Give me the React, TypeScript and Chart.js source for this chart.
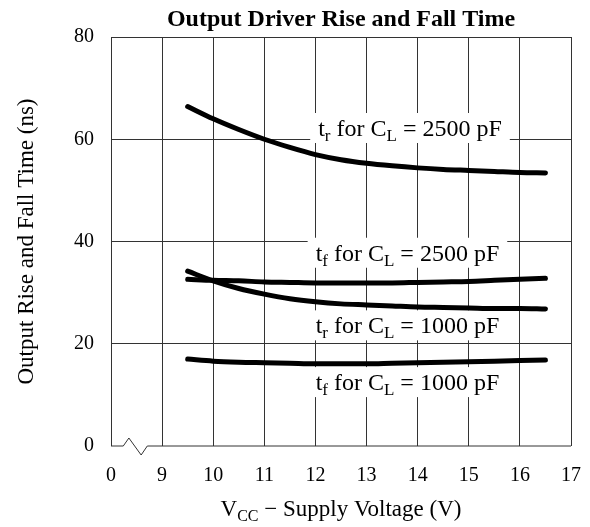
import React, { useEffect, useRef } from "react";
import { Chart, registerables } from "chart.js";

Chart.register(...registerables);

// Supply voltage (V) sample points
const VCC = [9.5, 10, 10.5, 11, 11.5, 12, 12.5, 13, 13.5, 14, 14.5, 15, 15.5, 16, 16.5];
// Output rise / fall times (ns)
const TR_2500 = [66.4, 64.0, 61.9, 60.0, 58.4, 57.0, 56.0, 55.3, 54.8, 54.4, 54.1, 53.9, 53.7, 53.5, 53.4];
const TF_2500 = [32.6, 32.4, 32.3, 32.1, 32.0, 31.9, 31.9, 31.9, 31.9, 32.0, 32.1, 32.2, 32.4, 32.6, 32.8];
const TR_1000 = [34.2, 32.3, 30.8, 29.7, 28.8, 28.2, 27.8, 27.6, 27.4, 27.2, 27.1, 27.0, 26.9, 26.9, 26.8];
const TF_1000 = [17.0, 16.6, 16.4, 16.3, 16.2, 16.1, 16.1, 16.1, 16.2, 16.3, 16.4, 16.5, 16.6, 16.7, 16.8];

// Axis (broken): position 0 -> "0", positions 1..9 -> 9..17 V
const X_TICK_LABELS = ["0", "9", "10", "11", "12", "13", "14", "15", "16", "17"];
const Y_TICKS = [0, 20, 40, 60, 80];
const VOLT_OFFSET = 8;

const TITLE = "Output Driver Rise and Fall Time";
const Y_TITLE = "Output Rise and Fall Time (ns)";

const CURVE_LABELS = [
  { sub: "r", load: "2500", v: 13.85, t: 62.2 },
  { sub: "f", load: "2500", v: 13.8, t: 37.8 },
  { sub: "r", load: "1000", v: 13.8, t: 23.6 },
  { sub: "f", load: "1000", v: 13.8, t: 12.5 },
];

const SERIF = "'Liberation Serif', 'Times New Roman', serif";

const toPts = (vals: number[]) => vals.map((t, i) => ({ x: VCC[i] - VOLT_OFFSET, y: t }));

const overlayPlugin = {
  id: "overlay",
  beforeDatasetsDraw(chart: any) {
    const { ctx, chartArea, scales } = chart;
    const xs = scales.x;
    const ys = scales.y;
    ctx.save();
    // Bottom border with axis break
    const b = chartArea.bottom;
    ctx.strokeStyle = "#333";
    ctx.lineWidth = 1;
    ctx.beginPath();
    ctx.moveTo(chartArea.left, b);
    ctx.lineTo(xs.getPixelForValue(0.24), b);
    ctx.lineTo(xs.getPixelForValue(0.35), b - 8);
    ctx.lineTo(xs.getPixelForValue(0.59), b + 9);
    ctx.lineTo(xs.getPixelForValue(0.71), b);
    ctx.lineTo(chartArea.right, b);
    ctx.stroke();

    // Curve labels with white boxes
    const mainFont = `24px ${SERIF}`;
    const subFont = `17px ${SERIF}`;
    for (const lab of CURVE_LABELS) {
      const parts = [
        { s: "t", f: mainFont, dy: 0 },
        { s: lab.sub, f: subFont, dy: 5 },
        { s: " for C", f: mainFont, dy: 0 },
        { s: "L", f: subFont, dy: 5 },
        { s: ` = ${lab.load} pF`, f: mainFont, dy: 0 },
      ];
      let w = 0;
      const widths = parts.map((p) => {
        ctx.font = p.f;
        const m = ctx.measureText(p.s).width;
        w += m;
        return m;
      });
      const cx = xs.getPixelForValue(lab.v - VOLT_OFFSET);
      const cy = ys.getPixelForValue(lab.t);
      ctx.fillStyle = "#fff";
      ctx.fillRect(cx - w / 2 - 8, cy - 15, w + 16, 30);
      ctx.fillStyle = "#000";
      ctx.textBaseline = "alphabetic";
      ctx.textAlign = "left";
      let x = cx - w / 2;
      parts.forEach((p, i) => {
        ctx.font = p.f;
        ctx.fillText(p.s, x, cy + 8 + p.dy);
        x += widths[i];
      });
    }

    // Title
    const midX = (chartArea.left + chartArea.right) / 2;
    ctx.fillStyle = "#000";
    ctx.font = `bold 24px ${SERIF}`;
    ctx.textAlign = "center";
    ctx.textBaseline = "alphabetic";
    ctx.fillText(TITLE, midX, 26);

    // X axis title with subscript
    const xParts = [
      { s: "V", f: `23px ${SERIF}`, dy: 0 },
      { s: "CC", f: `16px ${SERIF}`, dy: 5 },
      { s: " \u2212 Supply Voltage (V)", f: `23px ${SERIF}`, dy: 0 },
    ];
    let tw = 0;
    const xw = xParts.map((p) => {
      ctx.font = p.f;
      const m = ctx.measureText(p.s).width;
      tw += m;
      return m;
    });
    let px = midX - tw / 2;
    ctx.textAlign = "left";
    ctx.textBaseline = "alphabetic";
    xParts.forEach((p, i) => {
      ctx.font = p.f;
      ctx.fillText(p.s, px, 516 + p.dy);
      px += xw[i];
    });
    ctx.restore();
  },
};

export default function App() {
  const ref = useRef<HTMLCanvasElement | null>(null);
  useEffect(() => {
    if (!ref.current) return;
    const lineStyle = {
      borderColor: "#000",
      borderWidth: 5,
      pointRadius: 0,
      fill: false,
      cubicInterpolationMode: "monotone" as const,
      borderCapStyle: "round" as const,
    };
    const chart = new Chart(ref.current, {
      type: "line",
      data: {
        datasets: [
          { label: "tr 2500", data: toPts(TR_2500), ...lineStyle },
          { label: "tf 2500", data: toPts(TF_2500), ...lineStyle },
          { label: "tr 1000", data: toPts(TR_1000), ...lineStyle },
          { label: "tf 1000", data: toPts(TF_1000), ...lineStyle },
        ],
      },
      options: {
        animation: false,
        responsive: false,
        layout: { padding: { top: 37, right: 19, left: 0, bottom: 0 } },
        plugins: { legend: { display: false }, tooltip: { enabled: false }, title: { display: false } },
        scales: {
          x: {
            type: "linear",
            min: 0,
            max: X_TICK_LABELS.length - 1,
            afterFit: (s: any) => {
              s.height = 81;
              s.paddingLeft = 0;
              s.paddingRight = 0;
            },
            ticks: {
              stepSize: 1,
              color: "#000",
              font: { family: SERIF, size: 20 },
              padding: 18,
              maxRotation: 0,
              autoSkip: false,
              callback: (v: any) => X_TICK_LABELS[Number(v)] ?? "",
            },
            grid: { color: "#333", lineWidth: 1, drawTicks: false },
            border: { display: false },
          },
          y: {
            type: "linear",
            min: Y_TICKS[0],
            max: Y_TICKS[Y_TICKS.length - 1],
            afterFit: (s: any) => {
              s.width = 111;
              s.paddingTop = 0;
              s.paddingBottom = 0;
            },
            ticks: {
              stepSize: 20,
              color: "#000",
              font: { family: SERIF, size: 20 },
              padding: 17,
            },
            grid: {
              color: (c: any) => (c.tick && c.tick.value === 0 ? "rgba(0,0,0,0)" : "#333"),
              lineWidth: 1,
              drawTicks: false,
            },
            border: { display: false },
            title: {
              display: true,
              text: Y_TITLE,
              color: "#000",
              font: { family: SERIF, size: 23 },
              padding: { top: 13, bottom: 0 },
            },
          },
        },
      },
      plugins: [overlayPlugin],
    });
    return () => chart.destroy();
  }, []);
  return (
    <div style={{ position: "fixed", left: 0, top: 0, width: 590, height: 527, background: "#fff" }}>
      <canvas ref={ref} width={590} height={527} />
    </div>
  );
}
